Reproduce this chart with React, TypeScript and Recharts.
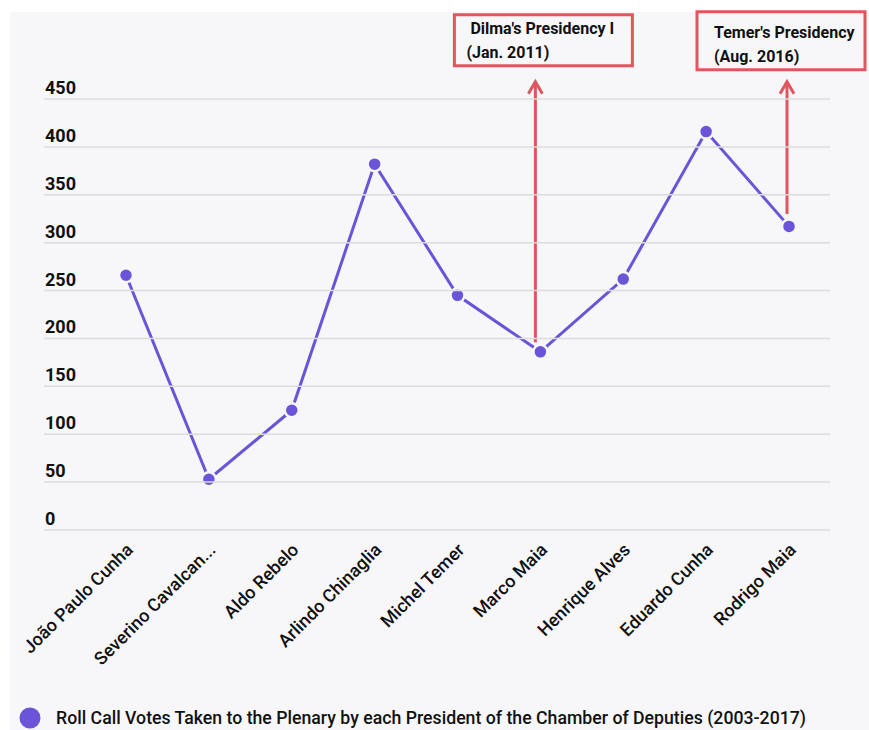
import { LineChart, Line, XAxis, YAxis, Legend, ReferenceLine } from "recharts";

const presidents = [
  "João Paulo Cunha",
  "Severino Cavalcan...",
  "Aldo Rebelo",
  "Arlindo Chinaglia",
  "Michel Temer",
  "Marco Maia",
  "Henrique Alves",
  "Eduardo Cunha",
  "Rodrigo Maia",
];
const votes = [266, 53, 125, 382, 245, 186, 262, 416, 317];
const yTicks = [0, 50, 100, 150, 200, 250, 300, 350, 400, 450];

const seriesName =
  "Roll Call Votes Taken to the Plenary by each President of the Chamber of Deputies (2003-2017)";

const notes = [
  { at: "Marco Maia", from: 196, to: 468, lines: ["Dilma's Presidency I", "(Jan. 2011)"], shift: -5 },
  { at: "Rodrigo Maia", from: 330, to: 468, lines: ["Temer's Presidency", "(Aug. 2016)"], shift: -2 },
];

const data = presidents.map((name, i) => ({ name, votes: votes[i] }));

const PURPLE = "#6b54d8";
const RED = "#e0555e";
const FONT = "Roboto, 'Noto Sans', sans-serif";

const YTick = (props: any) => {
  const { y, payload } = props;
  return (
    <g>
      <line x1={44} x2={830} y1={y} y2={y} stroke="#dcdcdc" strokeWidth={1.5} />
      <text x={45} y={y - 5} fontSize={18} fontWeight="bold" fill="#111" fontFamily={FONT}>
        {payload.value}
      </text>
    </g>
  );
};

const XTick = (props: any) => {
  const { x, payload } = props;
  const tx = x + 8;
  const ty = 551;
  return (
    <text
      x={tx}
      y={ty}
      transform={`rotate(-45, ${tx}, ${ty})`}
      textAnchor="end"
      fontSize={18}
      fontWeight={500}
      fill="#111"
      fontFamily={FONT}
    >
      {payload.value}
    </text>
  );
};

// arrow from the point up past the plot top, with its label box
const Arrow = (lines: string[], shift: number, first: boolean) => (props: any) => {
  const x = props.x1 + shift;
  const top = Math.min(props.y1, props.y2);
  const bottom = Math.max(props.y1, props.y2);
  const box = first
    ? { l: x - 81, r: x + 97, t: top - 67, b: top - 16, tx: [x - 65, x - 69], ty: [top - 48, top - 24] }
    : { l: x - 90, r: x + 78, t: top - 70, b: top - 12, tx: [x - 73, x - 73], ty: [top - 44, top - 20] };
  return (
    <g>
      <line x1={x} x2={x} y1={bottom} y2={top} stroke={RED} strokeWidth={3} />
      <polyline
        points={`${x - 7},${top + 12} ${x},${top} ${x + 7},${top + 12}`}
        fill="none"
        stroke={RED}
        strokeWidth={3}
      />
      <rect x={box.l} y={box.t} width={box.r - box.l} height={box.b - box.t} fill="none" stroke={RED} strokeWidth={3} />
      {lines.map((t, i) => (
        <text key={t} x={box.tx[i]} y={box.ty[i]} fontSize={16} fontWeight="bold" fill="#111" fontFamily={FONT}>
          {t}
        </text>
      ))}
    </g>
  );
};

const LegendContent = () => (
  <div style={{ display: "flex", alignItems: "center", fontFamily: FONT, fontSize: 17.7, fontWeight: 500, color: "#111", whiteSpace: "nowrap" }}>
    <svg width={22} height={22} style={{ marginRight: 15 }}>
      <circle cx={11} cy={11} r={10.5} fill={PURPLE} />
    </svg>
    <span>{seriesName}</span>
  </div>
);

export default function App() {
  return (
    <div style={{ position: "absolute", left: 0, top: 0, width: 869, height: 730, background: "#fff" }}>
      <div style={{ position: "absolute", left: 10, top: 12, right: 0, bottom: 0, background: "#f7f7f9" }} />
      <div style={{ position: "absolute", left: 0, top: 0 }}>
        <LineChart width={869} height={730} data={data} margin={{ top: 99, right: 38, left: 0, bottom: 0 }}>
          <YAxis
            width={84}
            domain={[0, 450]}
            ticks={yTicks}
            axisLine={false}
            tickLine={false}
            tick={<YTick />}
          />
          <XAxis
            dataKey="name"
            height={200}
            padding={{ left: 42, right: 42 }}
            axisLine={false}
            tickLine={false}
            interval={0}
            tick={<XTick />}
          />
          <Line
            dataKey="votes"
            name={seriesName}
            stroke={PURPLE}
            strokeWidth={3}
            dot={{ r: 7, fill: PURPLE, stroke: "#f7f7f9", strokeWidth: 2.5 }}
            activeDot={false}
            isAnimationActive={false}
          />
          {notes.map((n, i) => (
            <ReferenceLine
              key={n.at}
              segment={[
                { x: n.at, y: n.from },
                { x: n.at, y: n.to },
              ]}
              ifOverflow="visible"
              shape={Arrow(n.lines, n.shift, i === 0)}
            />
          ))}
          <Legend
            layout="horizontal"
            verticalAlign="middle"
            align="center"
            wrapperStyle={{ top: 707, left: 19, width: 850 }}
            content={<LegendContent />}
          />
        </LineChart>
      </div>
    </div>
  );
}
